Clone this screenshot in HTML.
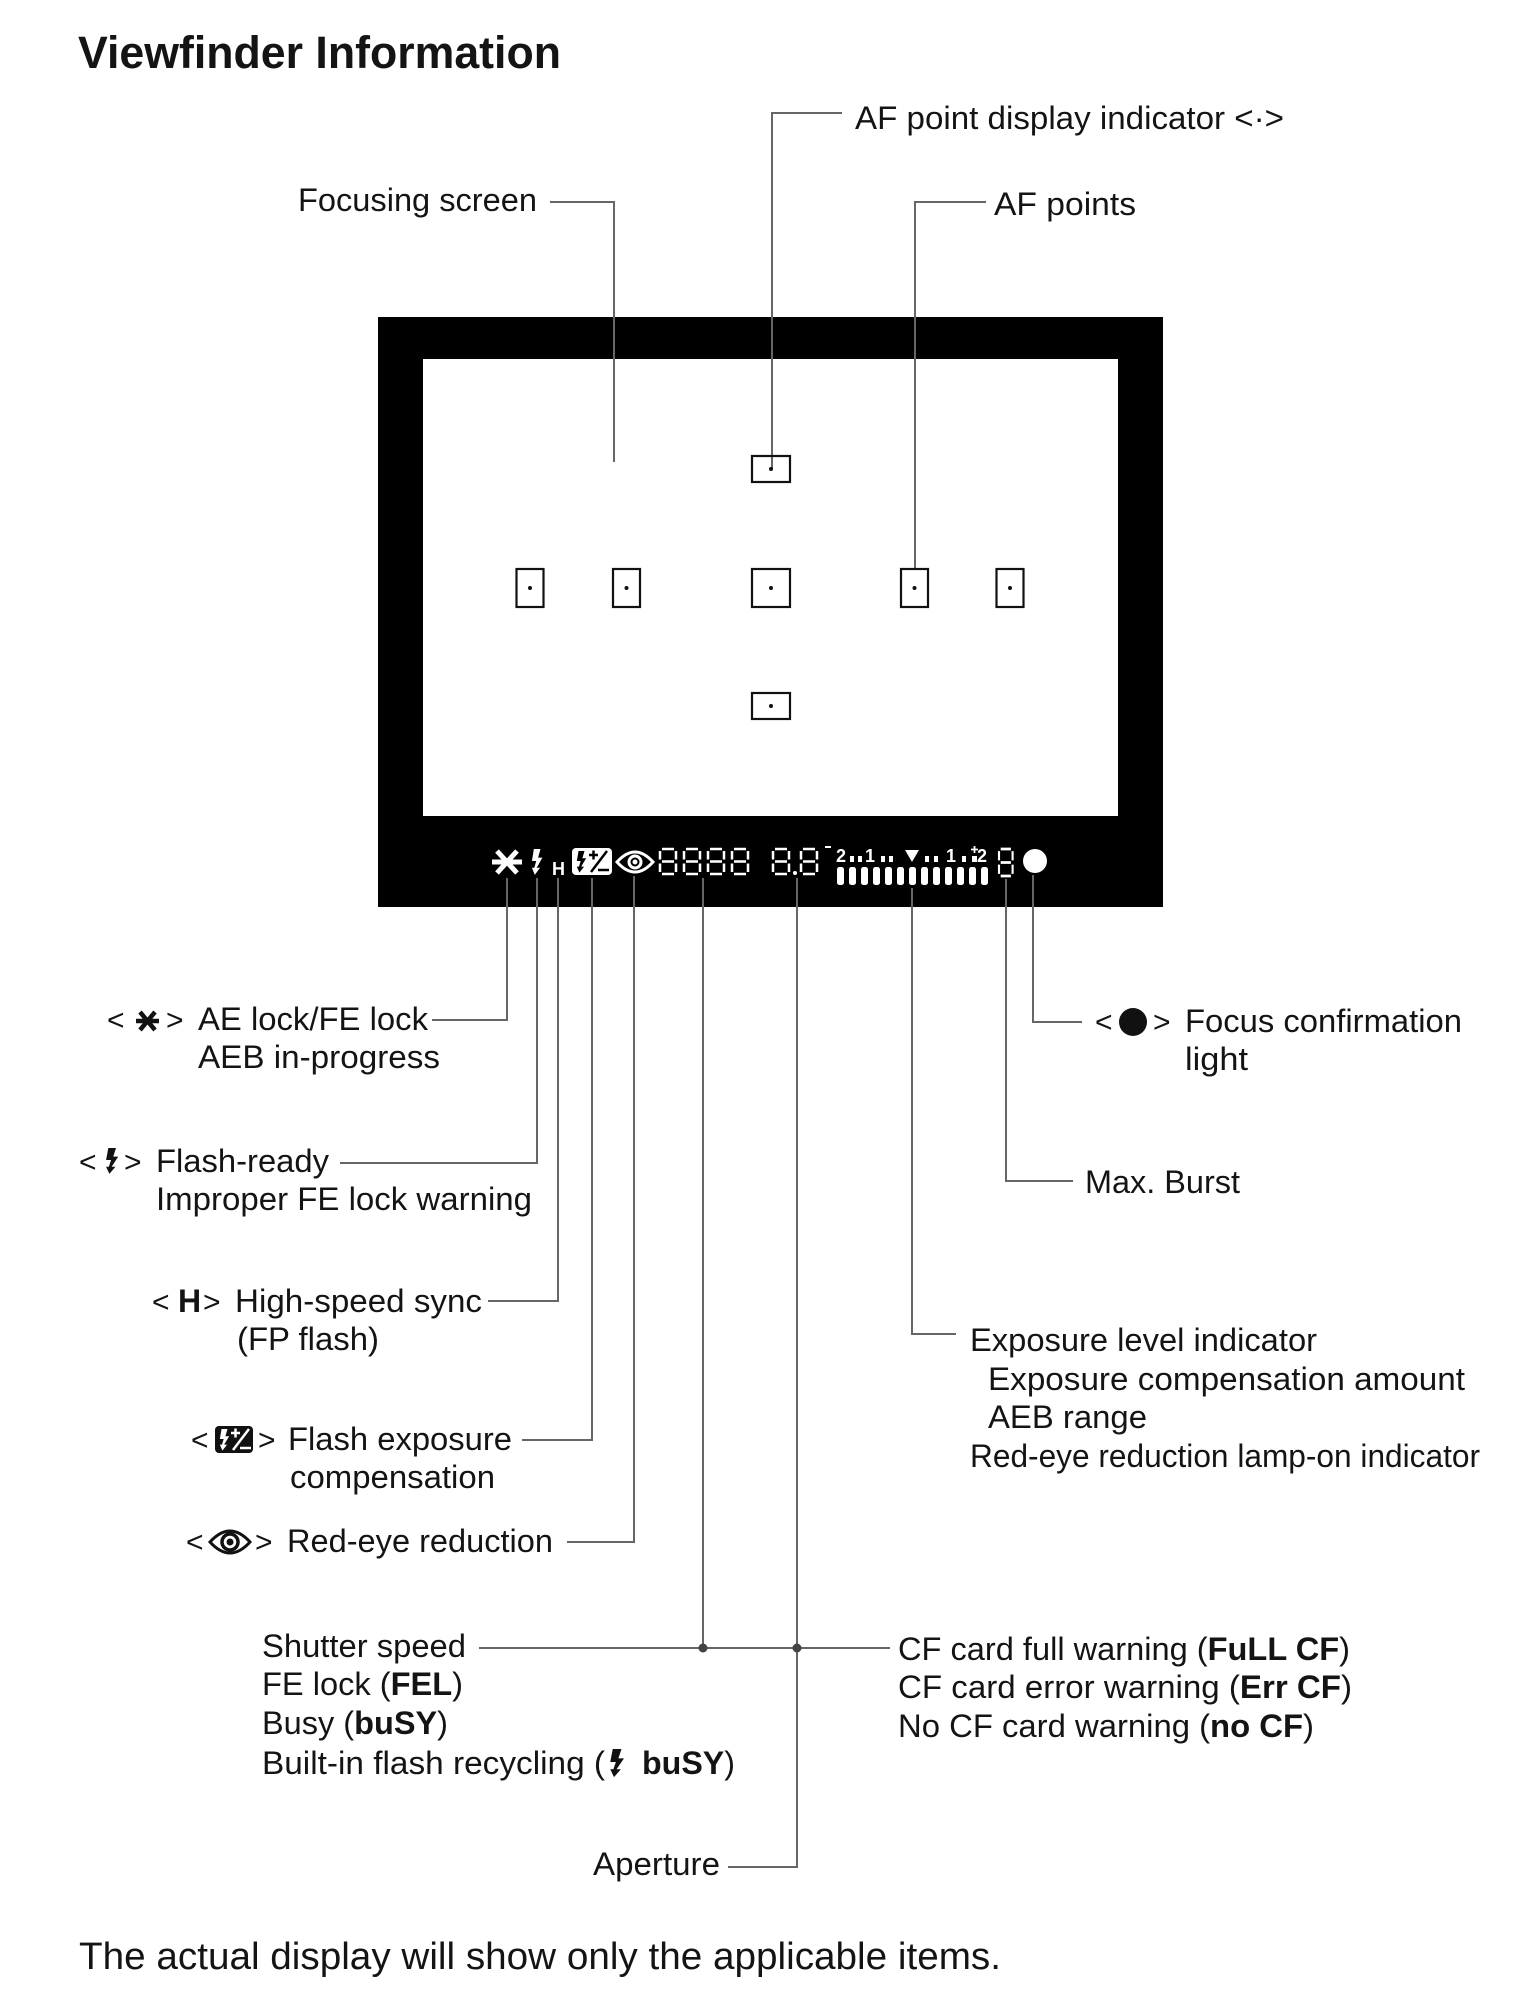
<!DOCTYPE html>
<html><head><meta charset="utf-8"><style>
html,body{margin:0;padding:0;background:#fff;}
svg{display:block;}
text{font-family:"Liberation Sans",Arial,Helvetica,sans-serif;fill:#141414;}
.w{fill:#fff;}
.b{font-weight:bold;}
</style></head><body>
<svg width="1524" height="2001" viewBox="0 0 1524 2001" xmlns="http://www.w3.org/2000/svg">
<rect x="0" y="0" width="1524" height="2001" fill="#fff"/>

<!-- Title -->
<text x="78" y="68" font-size="45" class="b" textLength="483" lengthAdjust="spacingAndGlyphs">Viewfinder Information</text>

<!-- Top labels -->
<text x="298" y="211" font-size="32" textLength="239" lengthAdjust="spacingAndGlyphs">Focusing screen</text>
<text x="855" y="129" font-size="32" textLength="429" lengthAdjust="spacingAndGlyphs">AF point display indicator &lt;·&gt;</text>
<text x="994" y="215" font-size="32" textLength="142" lengthAdjust="spacingAndGlyphs">AF points</text>

<!-- Frame -->
<rect x="378" y="317" width="785" height="590" fill="#000"/>
<rect x="423" y="359" width="695" height="457" fill="#fff"/>

<!-- Top leader lines -->
<g fill="none" stroke="#666" stroke-width="2">
<path d="M550 202 H614 V462"/>
<path d="M842 113 H772 V469"/>
<path d="M986 202 H915 V569"/>
</g>

<!-- AF points -->
<g fill="none" stroke="#111" stroke-width="2.2">
<rect x="752" y="456" width="38" height="26"/>
<rect x="516.5" y="569" width="27" height="38"/>
<rect x="613" y="569" width="27" height="38"/>
<rect x="752" y="569" width="38" height="38"/>
<rect x="901" y="569" width="27" height="38"/>
<rect x="996.5" y="569" width="27" height="38"/>
<rect x="752" y="693" width="38" height="26"/>
</g>
<g fill="#111">
<circle cx="771" cy="469" r="2"/>
<circle cx="530" cy="588" r="2"/>
<circle cx="626.5" cy="588" r="2"/>
<circle cx="771" cy="588" r="2"/>
<circle cx="914.5" cy="588" r="2"/>
<circle cx="1010" cy="588" r="2"/>
<circle cx="771" cy="706" r="2"/>
</g>

<!-- LCD icons -->
<g stroke="#fff" stroke-width="5" stroke-linecap="butt">
<path d="M492 862 H522"/>
<path d="M497 851 L517 873"/>
<path d="M517 851 L497 873"/>
</g>
<path fill="#fff" transform="translate(531,849) scale(0.95,0.96)" d="M3 0 H10 L7.5 9 H12 L6 19.5 H9.5 L4 27 L1 19.5 H3.5 L5.5 12.5 H1 Z"/>
<text x="552" y="875" font-size="18" class="w b">H</text>
<rect x="572" y="848" width="40" height="27" rx="4" fill="#fff"/>
<path fill="#000" transform="translate(576,851) scale(0.85,0.8)" d="M3 0 H10 L7.5 9 H12 L6 19.5 H9.5 L4 27 L1 19.5 H3.5 L5.5 12.5 H1 Z"/>
<g stroke="#000" stroke-width="2.5" fill="none">
<path d="M589 855 H598 M593.5 850.5 V859.5"/>
<path d="M607 851 L591 872"/>
<path d="M598 870 H609"/>
</g>
<path d="M617 862 Q635 842 653 862 Q635 882 617 862 Z" fill="none" stroke="#fff" stroke-width="3"/>
<circle cx="635" cy="862" r="6" fill="none" stroke="#fff" stroke-width="3"/>
<circle cx="635" cy="862" r="2.5" fill="#fff"/>

<!-- seven-seg digits -->
<g fill="none" stroke="#fff" stroke-width="2.5">
<path transform="translate(660,849)" d="M2 0H14 M16 2V10.5 M16 14.5V23 M2 25H14 M0 14.5V23 M0 2V10.5 M2 12.5H14"/>
<path transform="translate(684,849)" d="M2 0H14 M16 2V10.5 M16 14.5V23 M2 25H14 M0 14.5V23 M0 2V10.5 M2 12.5H14"/>
<path transform="translate(708,849)" d="M2 0H14 M16 2V10.5 M16 14.5V23 M2 25H14 M0 14.5V23 M0 2V10.5 M2 12.5H14"/>
<path transform="translate(732,849)" d="M2 0H14 M16 2V10.5 M16 14.5V23 M2 25H14 M0 14.5V23 M0 2V10.5 M2 12.5H14"/>
<path transform="translate(773,849)" d="M2 0H14 M16 2V10.5 M16 14.5V23 M2 25H14 M0 14.5V23 M0 2V10.5 M2 12.5H14"/>
<path transform="translate(801,849)" d="M2 0H14 M16 2V10.5 M16 14.5V23 M2 25H14 M0 14.5V23 M0 2V10.5 M2 12.5H14"/>
<path transform="translate(999,849) scale(0.85,1.08)" d="M2 0H14 M16 2V10.5 M16 14.5V23 M2 25H14 M0 14.5V23 M0 2V10.5 M2 12.5H14"/>
</g>
<circle cx="795" cy="873" r="2" fill="#fff"/>

<!-- exposure scale -->
<path d="M825 847 H831" stroke="#fff" stroke-width="2"/>
<text x="836" y="862" font-size="18" class="w b">2</text>
<text x="865" y="862" font-size="18" class="w b">1</text>
<text x="946" y="862" font-size="18" class="w b">1</text>
<text x="977" y="862" font-size="18" class="w b">2</text>
<g fill="#fff">
<rect x="850" y="856" width="4" height="6"/>
<rect x="858" y="856" width="4" height="6"/>
<rect x="881" y="856" width="4" height="6"/>
<rect x="889" y="856" width="4" height="6"/>
<rect x="925" y="856" width="4" height="6"/>
<rect x="934" y="856" width="4" height="6"/>
<rect x="962" y="856" width="4" height="6"/>
<rect x="972" y="856" width="5" height="6"/>
<path d="M905 850 L919 850 L912 862 Z"/>
</g>
<path d="M971 849.5H978 M974.5 846V853" stroke="#fff" stroke-width="1.8"/>
<g fill="#fff">
<rect x="837" y="867" width="7" height="18" rx="2.5"/>
<rect x="849" y="867" width="7" height="18" rx="2.5"/>
<rect x="861" y="867" width="7" height="18" rx="2.5"/>
<rect x="873" y="867" width="7" height="18" rx="2.5"/>
<rect x="885" y="867" width="7" height="18" rx="2.5"/>
<rect x="897" y="867" width="7" height="18" rx="2.5"/>
<rect x="909" y="867" width="7" height="18" rx="2.5"/>
<rect x="921" y="867" width="7" height="18" rx="2.5"/>
<rect x="933" y="867" width="7" height="18" rx="2.5"/>
<rect x="945" y="867" width="7" height="18" rx="2.5"/>
<rect x="957" y="867" width="7" height="18" rx="2.5"/>
<rect x="969" y="867" width="7" height="18" rx="2.5"/>
<rect x="981" y="867" width="7" height="18" rx="2.5"/>
</g>
<circle cx="1035" cy="861" r="12" fill="#fff"/>

<!-- Bottom leader lines -->
<g fill="none" stroke="#666" stroke-width="2">
<path d="M507 878 V1020 H432"/>
<path d="M537 878 V1163 H340"/>
<path d="M558 878 V1301 H488"/>
<path d="M592 878 V1440 H522"/>
<path d="M634 876 V1542 H567"/>
<path d="M703 878 V1648"/>
<path d="M479 1648 H890"/>
<path d="M797 878 V1867 H728"/>
<path d="M912 888 V1334 H956"/>
<path d="M1006 879 V1181 H1073"/>
<path d="M1033 875 V1022 H1082"/>
</g>
<circle cx="703" cy="1648" r="4.5" fill="#444"/>
<circle cx="797" cy="1648" r="4.5" fill="#444"/>

<!-- Left labels -->
<text x="107" y="1030" font-size="30">&lt;</text>
<g stroke="#111" stroke-width="4.5">
<path d="M136 1021 H159"/>
<path d="M140 1012 L155 1030"/>
<path d="M155 1012 L140 1030"/>
</g>
<text x="166" y="1030" font-size="30">&gt;</text>
<text x="198" y="1030" font-size="32" textLength="230" lengthAdjust="spacingAndGlyphs">AE lock/FE lock</text>
<text x="198" y="1068" font-size="32" textLength="242" lengthAdjust="spacingAndGlyphs">AEB in-progress</text>

<text x="79" y="1172" font-size="30">&lt;</text>
<path fill="#111" transform="translate(105,1148) scale(1.1,0.96)" d="M3 0 H10 L7.5 9 H12 L6 19.5 H9.5 L4 27 L1 19.5 H3.5 L5.5 12.5 H1 Z"/>
<text x="124" y="1172" font-size="30">&gt;</text>
<text x="156" y="1172" font-size="32" textLength="173" lengthAdjust="spacingAndGlyphs">Flash-ready</text>
<text x="156" y="1210" font-size="32" textLength="376" lengthAdjust="spacingAndGlyphs">Improper FE lock warning</text>

<text x="152" y="1312" font-size="30">&lt;</text>
<text x="178" y="1312" font-size="32" class="b">H</text>
<text x="203" y="1312" font-size="30">&gt;</text>
<text x="235" y="1312" font-size="32" textLength="247" lengthAdjust="spacingAndGlyphs">High-speed sync</text>
<text x="237" y="1350" font-size="32" textLength="142" lengthAdjust="spacingAndGlyphs">(FP flash)</text>

<text x="191" y="1450" font-size="30">&lt;</text>
<rect x="215" y="1426" width="38" height="27" rx="4" fill="#111"/>
<path fill="#fff" transform="translate(219,1429) scale(0.85,0.8)" d="M3 0 H10 L7.5 9 H12 L6 19.5 H9.5 L4 27 L1 19.5 H3.5 L5.5 12.5 H1 Z"/>
<g stroke="#fff" stroke-width="2.5" fill="none">
<path d="M231 1433 H240 M235.5 1428.5 V1437.5"/>
<path d="M249 1429 L233 1450"/>
<path d="M240 1448 H251"/>
</g>
<text x="258" y="1450" font-size="30">&gt;</text>
<text x="288" y="1450" font-size="32" textLength="224" lengthAdjust="spacingAndGlyphs">Flash exposure</text>
<text x="290" y="1488" font-size="32" textLength="205" lengthAdjust="spacingAndGlyphs">compensation</text>

<text x="186" y="1552" font-size="30">&lt;</text>
<path d="M210 1542 Q230 1520 250 1542 Q230 1564 210 1542 Z" fill="none" stroke="#111" stroke-width="3"/>
<circle cx="230" cy="1542" r="8" fill="none" stroke="#111" stroke-width="3.5"/>
<circle cx="230" cy="1542" r="3.5" fill="#111"/>
<text x="255" y="1552" font-size="30">&gt;</text>
<text x="287" y="1552" font-size="32" textLength="266" lengthAdjust="spacingAndGlyphs">Red-eye reduction</text>

<!-- Right labels -->
<text x="1095" y="1032" font-size="30">&lt;</text>
<circle cx="1133" cy="1022" r="14" fill="#111"/>
<text x="1153" y="1032" font-size="30">&gt;</text>
<text x="1185" y="1032" font-size="32" textLength="277" lengthAdjust="spacingAndGlyphs">Focus confirmation</text>
<text x="1185" y="1070" font-size="32" textLength="63" lengthAdjust="spacingAndGlyphs">light</text>

<text x="1085" y="1193" font-size="32" textLength="155" lengthAdjust="spacingAndGlyphs">Max. Burst</text>

<text x="970" y="1351" font-size="32" textLength="347" lengthAdjust="spacingAndGlyphs">Exposure level indicator</text>
<text x="988" y="1390" font-size="32" textLength="477" lengthAdjust="spacingAndGlyphs">Exposure compensation amount</text>
<text x="988" y="1428" font-size="32" textLength="159" lengthAdjust="spacingAndGlyphs">AEB range</text>
<text x="970" y="1467" font-size="32" textLength="510" lengthAdjust="spacingAndGlyphs">Red-eye reduction lamp-on indicator</text>

<!-- Shutter block -->
<text x="262" y="1657" font-size="32" textLength="204" lengthAdjust="spacingAndGlyphs">Shutter speed</text>
<text x="262" y="1695" font-size="32" textLength="201" lengthAdjust="spacingAndGlyphs">FE lock (<tspan class="b">FEL</tspan>)</text>
<text x="262" y="1734" font-size="32" textLength="186" lengthAdjust="spacingAndGlyphs">Busy (<tspan class="b">buSY</tspan>)</text>
<text x="262" y="1774" font-size="32" textLength="343" lengthAdjust="spacingAndGlyphs">Built-in flash recycling (</text>
<path fill="#111" transform="translate(609,1749) scale(1.25,1.04)" d="M3 0 H10 L7.5 9 H12 L6 19.5 H9.5 L4 27 L1 19.5 H3.5 L5.5 12.5 H1 Z"/>
<text x="642" y="1774" font-size="32" textLength="93" lengthAdjust="spacingAndGlyphs"><tspan class="b">buSY</tspan>)</text>

<!-- CF block -->
<text x="898" y="1660" font-size="32" textLength="452" lengthAdjust="spacingAndGlyphs">CF card full warning (<tspan class="b">FuLL CF</tspan>)</text>
<text x="898" y="1698" font-size="32" textLength="454" lengthAdjust="spacingAndGlyphs">CF card error warning (<tspan class="b">Err CF</tspan>)</text>
<text x="898" y="1737" font-size="32" textLength="416" lengthAdjust="spacingAndGlyphs">No CF card warning (<tspan class="b">no CF</tspan>)</text>

<text x="593" y="1875" font-size="32" textLength="127" lengthAdjust="spacingAndGlyphs">Aperture</text>

<!-- Bottom note -->
<text x="79" y="1969" font-size="38" textLength="922" lengthAdjust="spacingAndGlyphs">The actual display will show only the applicable items.</text>
</svg>
</body></html>
